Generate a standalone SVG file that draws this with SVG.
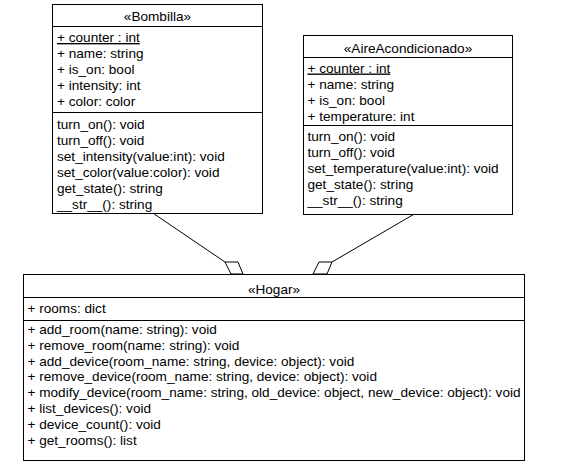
<svg xmlns="http://www.w3.org/2000/svg" width="564" height="462" viewBox="0 0 564 462">
<style>
  .box { fill: #ffffff; stroke: #000000; stroke-width: 1; }
  .div { stroke: #000000; stroke-width: 1; }
  text { font-family: "Liberation Sans", Arial, sans-serif; font-size: 13.6px; fill: #000000; }
  .title { text-anchor: middle; }
  .static { text-decoration: underline; }
  .edge { stroke: #000000; stroke-width: 1; fill: none; }
  .agg { fill: #ffffff; stroke: #000000; stroke-width: 1; }
</style>
<rect width="564" height="462" fill="#ffffff"/>

<g id="connectors">
  <line class="edge" x1="153.5" y1="213.5" x2="225" y2="262"/>
  <polygon class="agg" points="225,262 238,262 243,274 231,274"/>
  <line class="edge" x1="413.5" y1="214.5" x2="332" y2="262"/>
  <polygon class="agg" points="319,262 332,262 327,274 313,274"/>
</g>

<g id="Bombilla">
  <rect class="box" x="52.5" y="4.5" width="210" height="209"/>
  <line class="div" x1="52.5" y1="26.5" x2="262.5" y2="26.5"/>
  <line class="div" x1="52.5" y1="112.5" x2="262.5" y2="112.5"/>
  <text class="title" x="157.5" y="21">«Bombilla»</text>
  <text class="static" x="57" y="42">+ counter : int</text>
  <text x="57" y="58">+ name: string</text>
  <text x="57" y="74">+ is_on: bool</text>
  <text x="57" y="90">+ intensity: int</text>
  <text x="57" y="106">+ color: color</text>
  <text x="57" y="129">turn_on(): void</text>
  <text x="57" y="145">turn_off(): void</text>
  <text x="57" y="161">set_intensity(value:int): void</text>
  <text x="57" y="177">set_color(value:color): void</text>
  <text x="57" y="193">get_state(): string</text>
  <text x="57" y="209">__str__(): string</text>
</g>

<g id="AireAcondicionado">
  <rect class="box" x="303.5" y="35.5" width="209" height="179"/>
  <line class="div" x1="303.5" y1="57.5" x2="512.5" y2="57.5"/>
  <line class="div" x1="303.5" y1="125.5" x2="512.5" y2="125.5"/>
  <text class="title" x="408" y="52.5">«AireAcondicionado»</text>
  <text class="static" x="307.5" y="72.5">+ counter : int</text>
  <text x="307.5" y="88.5">+ name: string</text>
  <text x="307.5" y="104.5">+ is_on: bool</text>
  <text x="307.5" y="120.5">+ temperature: int</text>
  <text x="307.5" y="140.5">turn_on(): void</text>
  <text x="307.5" y="156.5">turn_off(): void</text>
  <text x="307.5" y="172.5">set_temperature(value:int): void</text>
  <text x="307.5" y="188.5">get_state(): string</text>
  <text x="307.5" y="204.5">__str__(): string</text>
</g>

<g id="Hogar">
  <rect class="box" x="23.5" y="274.5" width="501" height="186"/>
  <line class="div" x1="23.5" y1="297.5" x2="524.5" y2="297.5"/>
  <line class="div" x1="23.5" y1="320.5" x2="524.5" y2="320.5"/>
  <text class="title" x="274" y="294">«Hogar»</text>
  <text x="27.5" y="312.5">+ rooms: dict</text>
  <text x="27.5" y="334">+ add_room(name: string): void</text>
  <text x="27.5" y="349.8">+ remove_room(name: string): void</text>
  <text x="27.5" y="365.6">+ add_device(room_name: string, device: object): void</text>
  <text x="27.5" y="381.4">+ remove_device(room_name: string, device: object): void</text>
  <text x="27.5" y="397.2">+ modify_device(room_name: string, old_device: object, new_device: object): void</text>
  <text x="27.5" y="413">+ list_devices(): void</text>
  <text x="27.5" y="428.8">+ device_count(): void</text>
  <text x="27.5" y="444.6">+ get_rooms(): list</text>
</g>
</svg>
